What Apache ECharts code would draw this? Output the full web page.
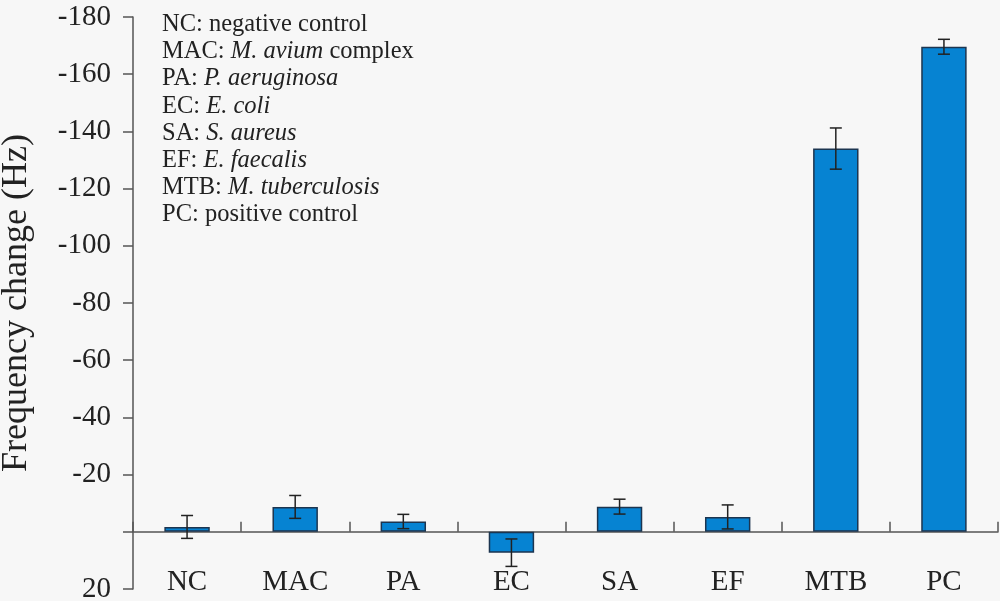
<!DOCTYPE html>
<html>
<head>
<meta charset="utf-8">
<script src="https://cdn.jsdelivr.net/npm/echarts@6/dist/echarts.min.js"></script>
<style>
html,body{margin:0;padding:0;background:#f7f7f7;}
#c{width:1000px;height:601px;}
</style>
</head>
<body>
<div id="c"></div>
<script>
const categories = ['NC','MAC','PA','EC','SA','EF','MTB','PC'];
const means = [-1.7, -8.7, -3.6, 7.3, -8.8, -5.2, -134, -169.6];
const errors = [4.0, 4.0, 2.5, 4.8, 2.6, 4.2, 7.2, 2.6];
const legendLines = [
  [['n','NC: negative control']],
  [['n','MAC: '],['i','M. avium'],['n',' complex']],
  [['n','PA: '],['i','P. aeruginosa']],
  [['n','EC: '],['i','E. coli']],
  [['n','SA: '],['i','S. aureus']],
  [['n','EF: '],['i','E. faecalis']],
  [['n','MTB: '],['i','M. tuberculosis']],
  [['n','PC: positive control']]
];

const serif = '"Liberation Serif", "DejaVu Serif", serif';
const chart = echarts.init(document.getElementById('c'));
const errData = means.map((m, i) => [i, m - errors[i], m + errors[i]]);
const legendText = legendLines.map(l => l.map(([s, t]) => '{' + s + '|' + t + '}').join('')).join('\n');

chart.setOption({
  backgroundColor: '#f7f7f7',
  animation: false,
  grid: {left: 133, right: 2, top: 17, bottom: 12, containLabel: false, outerBoundsMode: 'none'},
  xAxis: {
    type: 'category',
    data: categories,
    boundaryGap: true,
    axisLine: {onZero: true, lineStyle: {color: '#555', width: 1.5}},
    axisTick: {show: true, inside: true, length: 10, interval: 0, lineStyle: {color: '#555', width: 1.5}},
    axisLabel: {margin: -18, fontFamily: serif, fontSize: 29, lineHeight: 22, color: '#222', interval: 0, hideOverlap: false},
    splitLine: {show: false}
  },
  yAxis: {
    type: 'value',
    inverse: true,
    min: -180, max: 20, interval: 20,
    name: 'Frequency change (Hz)',
    nameLocation: 'middle',
    nameGap: 98,
    nameTextStyle: {fontFamily: serif, fontSize: 36, color: '#222'},
    axisLine: {show: true, lineStyle: {color: '#555', width: 1.5}},
    axisTick: {show: true, inside: false, length: 10, lineStyle: {color: '#555', width: 1.5}},
    axisLabel: {margin: 22, fontFamily: serif, fontSize: 29, color: '#222',
      formatter: v => v === 0 ? '' : String(v)},
    splitLine: {show: false}
  },
  graphic: [{
    type: 'text',
    left: 162, top: 11,
    style: {
      text: legendText,
      fontFamily: serif, fontSize: 24.5, lineHeight: 27.2, fill: '#222',
      rich: {
        n: {fontFamily: serif, fontSize: 24.5, lineHeight: 27.2, color: '#222'},
        i: {fontFamily: serif, fontSize: 24.5, lineHeight: 27.2, fontStyle: 'italic', color: '#222'}
      }
    }
  }],
  series: [{
    type: 'bar',
    data: means,
    barWidth: '42%',
    itemStyle: {color: '#0683d2', borderColor: '#1c3550', borderWidth: 1.5}
  }, {
    type: 'custom',
    data: errData,
    z: 10,
    renderItem: function (params, api) {
      const x = api.value(0);
      const lo = api.coord([x, api.value(1)]);
      const hi = api.coord([x, api.value(2)]);
      const half = 6;
      const style = {stroke: '#222', lineWidth: 1.5};
      return {
        type: 'group',
        children: [
          {type: 'line', shape: {x1: lo[0], y1: lo[1], x2: hi[0], y2: hi[1]}, style: style},
          {type: 'line', shape: {x1: lo[0] - half, y1: lo[1], x2: lo[0] + half, y2: lo[1]}, style: style},
          {type: 'line', shape: {x1: hi[0] - half, y1: hi[1], x2: hi[0] + half, y2: hi[1]}, style: style}
        ]
      };
    }
  }]
});
</script>
</body>
</html>
